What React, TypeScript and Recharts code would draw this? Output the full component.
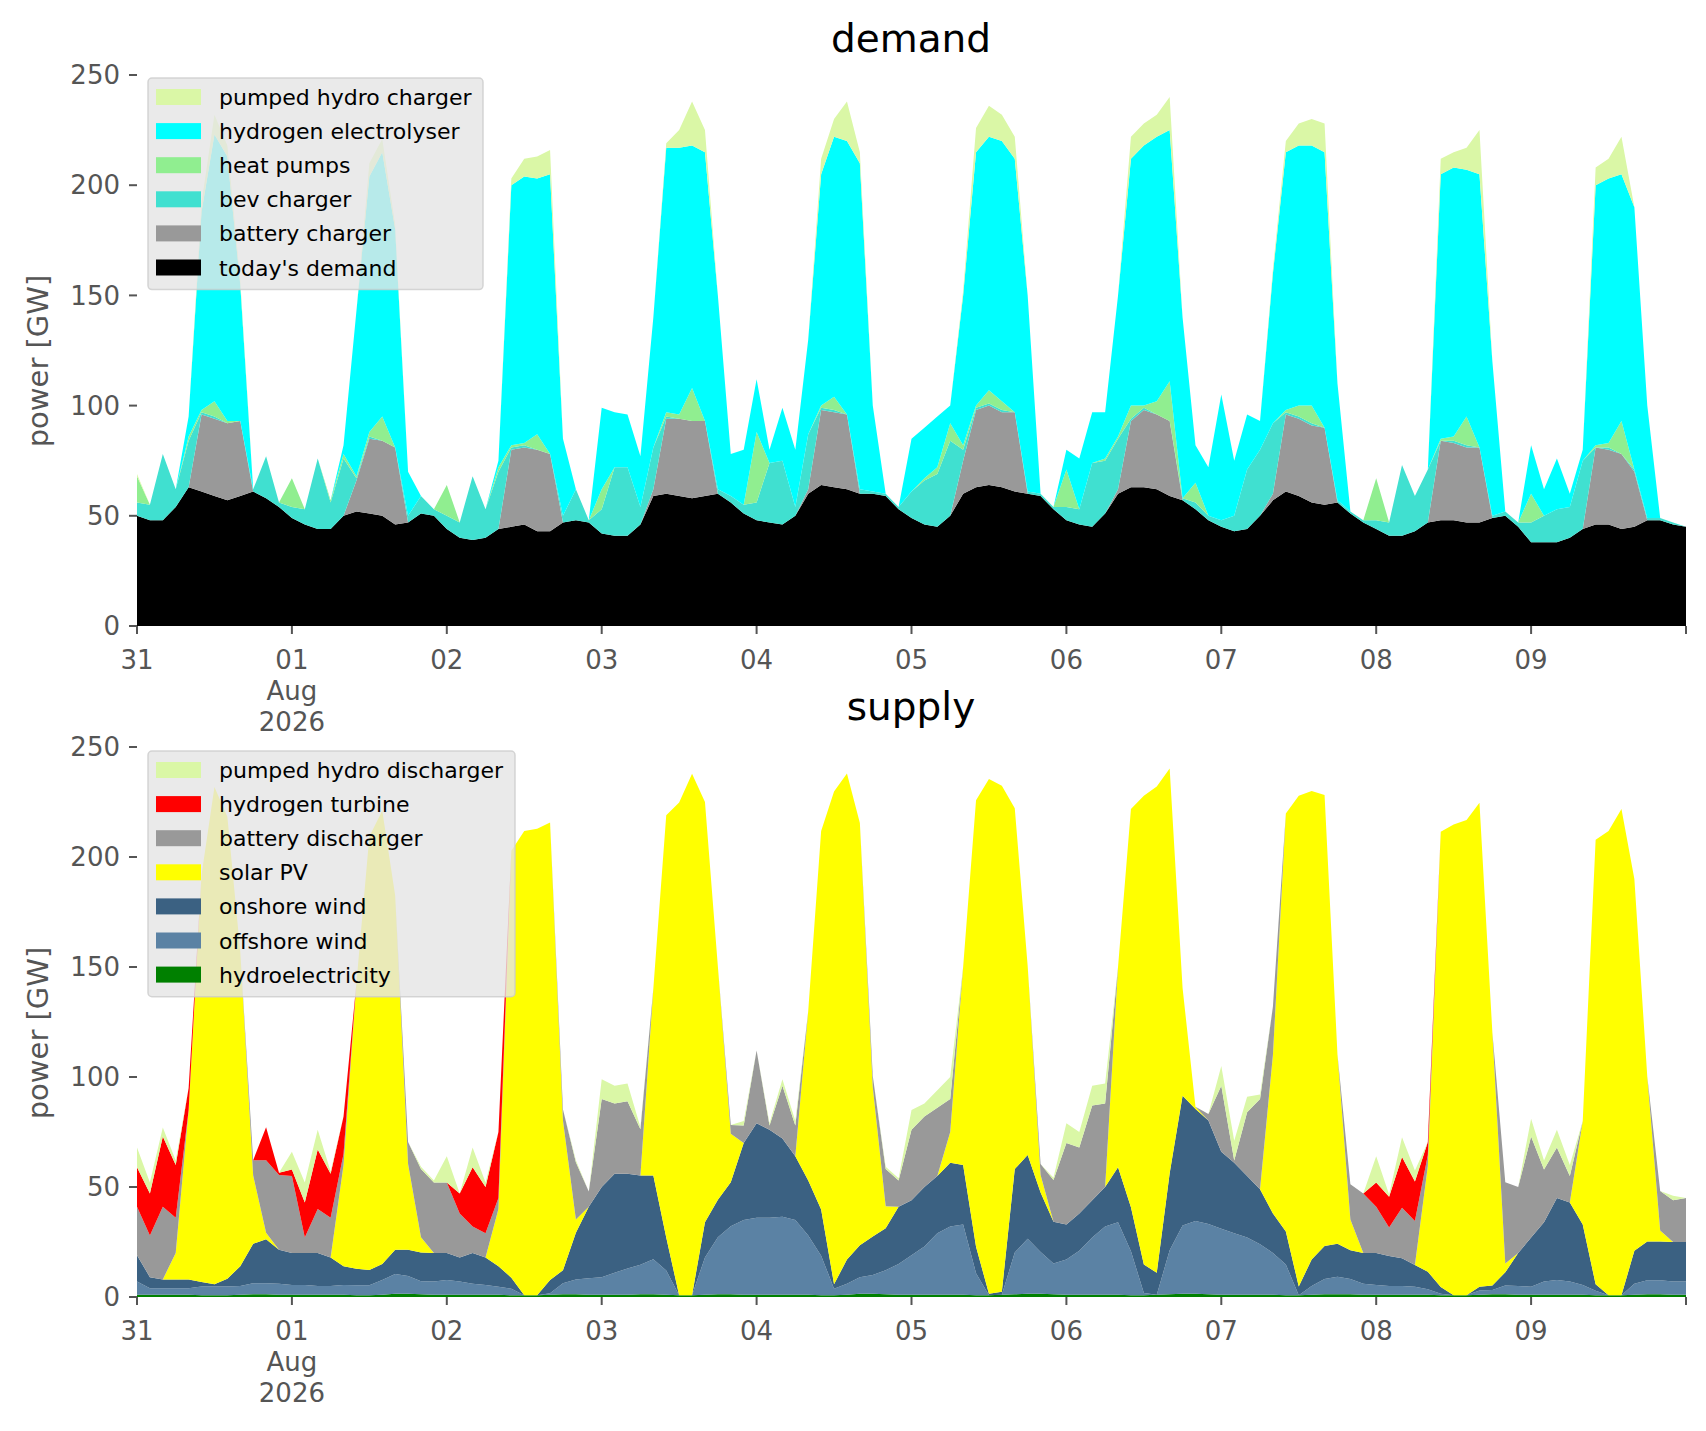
import React from 'react';
import { AreaChart, Area, XAxis, YAxis } from 'recharts';

// two-hourly slots, 31 Jul 00:00 .. 10 Aug 00:00
const DAY_TICKS = [0, 12, 24, 36, 48, 60, 72, 84, 96, 108, 120];
const DAY_LABELS = ['31', '01\nAug\n2026', '02', '03', '04', '05', '06', '07', '08', '09', ''];
const POWER_TICKS = [0, 50, 100, 150, 200, 250];

// demand side [GW]
const TODAYS_DEMAND = [
  50, 48, 48, 54, 63, 61, 59, 57, 59, 61, 58, 54,
  49, 46, 44, 44, 50, 52, 51, 50, 46, 47, 51, 50,
  44, 40, 39, 40, 44, 45, 46, 43, 43, 47, 48, 47,
  42, 41, 41, 46, 59, 60, 59, 58, 59, 60, 56, 51,
  48, 47, 46, 50, 60, 64, 63, 62, 60, 60, 59, 53,
  49, 46, 45, 50, 60, 63, 64, 63, 61, 60, 59, 53,
  48, 46, 45, 51, 60, 63, 63, 62, 59, 57, 53, 48,
  45, 43, 44, 50, 57, 61, 59, 56, 55, 56, 51, 47,
  44, 41, 41, 43, 47, 48, 48, 47, 47, 49, 50, 45,
  38, 38, 38, 40, 44, 46, 46, 44, 45, 48, 48, 46,
  45,
];
const BATTERY_CHARGER = [
  0, 0, 0, 0, 0, 35, 35, 35, 34, 0, 0, 0,
  0, 0, 0, 0, 0, 14, 34, 34, 35, 0, 0, 0,
  0, 0, 0, 0, 0, 35, 35, 37, 35, 0, 0, 0,
  0, 0, 0, 0, 3, 34, 35, 35, 34, 0, 0, 0,
  0, 0, 0, 0, 2, 34, 34, 34, 0, 0, 0, 0,
  0, 0, 0, 0, 15, 35, 36, 34, 36, 0, 0, 0,
  0, 0, 0, 0, 2, 30, 35, 34, 34, 0, 0, 0,
  0, 0, 0, 0, 3, 35, 35, 35, 35, 0, 0, 0,
  0, 0, 0, 0, 0, 36, 35, 34, 34, 0, 0, 0,
  0, 0, 0, 0, 0, 35, 34, 34, 25, 0, 0, 0,
  0,
];
const BEV_CHARGER = [
  6, 7, 30, 8, 21, 1, 1, 0, 0, 1, 19, 2,
  5, 7, 32, 12, 26, 1, 1, 0, 0, 3, 8, 3,
  6, 7, 29, 13, 26, 1, 1, 0, 0, 3, 14, 1,
  11, 31, 31, 8, 19, 1, 0, 0, 0, 2, 3, 4,
  8, 27, 29, 4, 25, 1, 1, 0, 2, 1, 1, 1,
  12, 20, 24, 34, 5, 1, 1, 1, 0, 1, 1, 1,
  6, 7, 29, 24, 23, 1, 1, 0, 0, 1, 3, 2,
  3, 7, 27, 30, 32, 1, 1, 1, 0, 1, 1, 1,
  4, 6, 32, 16, 24, 0, 1, 1, 0, 1, 2, 2,
  9, 12, 15, 14, 31, 0, 1, 0, 1, 1, 1, 1,
  0,
];
const HEAT_PUMPS = [
  12, 0, 0, 0, 2, 1, 7, 1, 0, 0, 0, 0,
  13, 0, 0, 1, 2, 1, 2, 11, 0, 0, 0, 0,
  14, 0, 0, 0, 2, 1, 1, 7, 0, 0, 0, 0,
  9, 0, 0, 0, 0, 2, 2, 15, 0, 0, 0, 0,
  32, 0, 0, 0, 0, 1, 6, 0, 0, 0, 0, 0,
  0, 1, 3, 8, 2, 1, 6, 4, 0, 0, 0, 0,
  17, 0, 0, 1, 1, 6, 1, 6, 18, 0, 9, 0,
  0, 0, 0, 0, 0, 1, 5, 8, 0, 0, 0, 0,
  19, 0, 0, 0, 0, 1, 2, 13, 0, 0, 0, 0,
  13, 0, 0, 0, 0, 1, 2, 15, 0, 0, 0, 0,
  0,
];
const H2_ELECTROLYSER = [
  0, 0, 0, 0, 9, 90, 121, 120, 62, 0, 0, 0,
  0, 0, 0, 0, 4, 75, 116, 120, 99, 20, 0, 0,
  0, 0, 0, 0, 3, 118, 121, 116, 127, 35, 0, 0,
  37, 25, 24, 23, 59, 120, 121, 110, 122, 88, 19, 25,
  24, 6, 24, 26, 43, 105, 118, 124, 148, 39, 0, 0,
  24, 23, 23, 8, 68, 115, 115, 118, 115, 89, 0, 0,
  9, 23, 23, 21, 64, 112, 118, 120, 114, 82, 17, 22,
  57, 25, 25, 13, 68, 117, 118, 118, 125, 53, 0, 0,
  0, 0, 0, 0, 0, 120, 122, 112, 124, 70, 0, 0,
  22, 12, 23, 6, 5, 118, 120, 112, 119, 51, 0, 0,
  0,
];
const PUMPED_CHARGER = [
  1, 0, 0, 0, 0, 4, 9, 5, 2, 0, 0, 0,
  0, 0, 0, 0, 0, 0, 6, 6, 2, 0, 0, 0,
  0, 0, 0, 0, 0, 3, 8, 10, 11, 0, 0, 0,
  0, 0, 0, 0, 0, 2, 8, 20, 10, 0, 0, 0,
  0, 0, 0, 0, 0, 7, 8, 18, 5, 0, 0, 0,
  0, 0, 0, 0, 2, 11, 14, 12, 10, 0, 0, 0,
  0, 0, 0, 0, 0, 10, 10, 10, 15, 0, 0, 0,
  0, 0, 0, 0, 2, 5, 10, 12, 13, 0, 0, 0,
  0, 0, 0, 0, 0, 7, 7, 10, 20, 0, 0, 0,
  0, 0, 0, 0, 0, 8, 9, 17, 0, 0, 0, 0,
  0,
];

// supply side [GW]
const HYDRO = [
  1, 1, 1, 1, 1, 0.8, 0.8, 0.8, 1, 1.2, 1.2, 1,
  1, 1, 1, 1, 1, 0.8, 0.8, 1, 1.5, 1.5, 1.2, 1,
  1, 1, 1, 1, 1, 0.8, 0.8, 0.8, 1, 1.2, 1.2, 1,
  1, 1, 1, 1.2, 1.2, 1, 0.8, 0.8, 1, 1.2, 1.2, 1,
  1, 1, 1, 1, 1, 0.8, 0.8, 1, 1.5, 1.5, 1.2, 1,
  1, 1, 1, 1, 1, 0.8, 0.8, 1, 1.2, 1.5, 1.5, 1.2,
  1, 1, 1, 1, 1, 0.8, 0.8, 1, 1.2, 1.5, 1.5, 1.2,
  1, 1, 1, 1, 1, 0.8, 0.8, 1, 1.2, 1.2, 1.2, 1,
  1, 1, 1, 1, 1, 0.8, 0.8, 0.8, 1, 1.2, 1.2, 1,
  1, 1, 1, 1, 1, 0.8, 0.8, 0.8, 1, 1.2, 1.2, 1,
  1,
];
const OFFSHORE_WIND = [
  6, 3, 3, 3, 3, 4, 4, 4, 4, 5, 5, 5,
  4.5, 4.5, 4, 4, 4.5, 4.5, 4.5, 6.7, 9, 8, 6, 6,
  6.7, 6, 5, 4.5, 3.7, 3, 0, 0, 0.7, 5, 6.7, 7.5,
  8, 10, 12, 13.5, 16, 11, 0, 0, 17, 26, 31, 34,
  35, 35, 35.5, 34, 27, 18, 3, 5, 7.5, 8.5, 11, 14,
  18, 22, 28, 31, 32, 10, 0, 0, 19, 25, 19, 14,
  16, 20, 26, 31, 33, 20, 1, 0, 20, 31, 33, 32,
  30, 28, 26, 23, 19, 14, 0, 4, 7, 8, 7, 5,
  4.5, 4, 4, 3.7, 2.5, 0.7, 0, 0, 2, 2, 4, 4,
  3.7, 6, 6.7, 6, 4.5, 2, 0, 0, 5, 6.4, 6.4, 6,
  6,
];
const ONSHORE_WIND = [
  12, 5, 4, 4, 4, 2, 1, 3.5, 9, 18, 20, 15.5,
  14.5, 14.5, 15, 13, 8.5, 7.5, 7, 7.3, 11, 12, 13, 13,
  12.3, 11, 14, 12.5, 9.3, 5, 0, 0, 6, 6, 21.3, 32.5,
  41, 45, 43, 40.5, 38, 15, 0, 0, 16, 17, 20, 35,
  43, 40, 35.5, 29, 25, 21, 2, 11, 14.5, 17.5, 19, 26,
  25, 27, 26, 29, 27, 12, 0.7, 1.4, 38, 38, 27, 19,
  16, 17, 17, 18, 25, 20, 13, 10, 35, 59, 51, 47,
  35, 32, 28, 25, 18, 15, 4, 12, 15, 15, 13, 14,
  14.5, 13.6, 12.6, 9.8, 8, 3, 0, 0, 1.7, 2, 6, 15,
  22.3, 27, 37.3, 36, 27.5, 3, 0, 0, 15, 17.6, 17.6, 18,
  18,
];
const SOLAR_PV = [
  0, 0, 0, 12, 77, 185, 226, 210, 143, 31, 3, 0,
  0, 0, 0, 0, 46, 130, 197, 206, 161, 39, 7, 0,
  0, 0, 0, 0, 26, 194, 211, 212, 208, 68, 6, 0,
  0, 0, 0, 0, 85, 192, 224, 237, 191, 106, 22, 0,
  0, 0, 0, 0, 77, 172, 224, 221, 192, 68, 10, 0,
  0, 0, 0, 14, 90, 203, 234, 230, 164, 86, 8, 0,
  0, 0, 0, 0, 91, 181, 213, 221, 184, 49, 1, 0,
  0, 0, 0, 0, 72, 190, 223, 213, 205, 86, 14, 0,
  0, 0, 0, 0, 48, 207, 214, 216, 220, 115, 4, 0,
  0, 0, 0, 0, 47, 202, 211, 221, 169, 75, 5, 0,
  0,
];
const BATTERY_DISCHARGER = [
  22, 19, 33, 16, 0, 0, 0, 0, 0, 7, 33, 34,
  35, 7, 20, 18, 5, 0, 0, 0, 0, 10, 31, 32,
  32, 20, 12, 11, 5, 0, 0, 0, 0, 5, 26, 7,
  40, 32, 33, 21, 0, 0, 0, 0, 0, 0, 4, 8,
  33, 2, 24, 14, 0, 0, 0, 0, 0, 5, 17, 12,
  32, 32, 31, 15, 0, 0, 0, 0, 0, 0, 5, 19,
  37, 30, 43, 38, 0, 0, 0, 0, 0, 0, 0, 3,
  30, 1, 29, 41, 22, 0, 0, 0, 0, 0, 16, 27,
  21, 13, 23, 20, 5, 0, 0, 0, 0, 0, 37, 30,
  46, 24, 23, 12, 0, 0, 0, 0, 0, 0, 18, 19,
  20,
];
const H2_TURBINE = [
  18, 19, 32, 24, 10, 0, 0, 0, 0, 0, 15, 1,
  3, 16, 27, 20, 17, 0, 0, 0, 0, 0, 0, 0,
  0, 9, 27, 21, 30, 0, 0, 0, 0, 0, 0, 0,
  0, 0, 0, 0, 0, 0, 0, 0, 0, 0, 0, 0,
  0, 0, 0, 0, 0, 0, 0, 0, 0, 0, 0, 0,
  0, 0, 0, 0, 0, 0, 0, 0, 0, 0, 0, 0,
  0, 0, 0, 0, 0, 0, 0, 0, 0, 0, 0, 0,
  0, 0, 0, 0, 0, 0, 0, 0, 0, 0, 0, 0,
  11, 14, 23, 18, 6, 0, 0, 0, 0, 0, 0, 0,
  0, 0, 0, 0, 0, 0, 0, 0, 0, 0, 0, 0,
  0,
];
const PUMPED_DISCHARGER = [
  9, 5, 4, 2, 0, 0, 0, 0, 0, 0, 0, 0,
  8, 9, 9, 1, 0, 0, 0, 0, 0, 0, 1, 1,
  12, 0, 9, 2, 0, 0, 0, 0, 0, 0, 1, 0,
  9, 8, 8, 1, 0, 0, 0, 0, 0, 0, 0, 2,
  0, 1, 3, 2, 0, 0, 0, 0, 0, 0, 1, 1,
  9, 6, 8, 10, 0, 0, 0, 0, 0, 0, 0, 1,
  9, 7, 9, 9, 0, 0, 0, 0, 0, 0, 0, 0,
  9, 9, 7, 2, 0, 0, 0, 0, 0, 0, 0, 0,
  12, 1, 9, 5, 0, 0, 0, 0, 0, 0, 0, 0,
  8, 4, 8, 5, 0, 0, 0, 0, 0, 0, 0, 2,
  0,
];

type Series = { key: string; name: string; color: string; values: number[] };

// listed bottom of the stack first
const DEMAND_SERIES: Series[] = [
  { key: 'today', name: "today's demand", color: '#000000', values: TODAYS_DEMAND },
  { key: 'battery', name: 'battery charger', color: '#999999', values: BATTERY_CHARGER },
  { key: 'bev', name: 'bev charger', color: '#40e0d0', values: BEV_CHARGER },
  { key: 'heat', name: 'heat pumps', color: '#90ee90', values: HEAT_PUMPS },
  { key: 'electrolyser', name: 'hydrogen electrolyser', color: '#00ffff', values: H2_ELECTROLYSER },
  { key: 'pumped', name: 'pumped hydro charger', color: '#daf7a6', values: PUMPED_CHARGER },
];

const SUPPLY_SERIES: Series[] = [
  { key: 'hydro', name: 'hydroelectricity', color: '#008000', values: HYDRO },
  { key: 'offshore', name: 'offshore wind', color: '#5b82a4', values: OFFSHORE_WIND },
  { key: 'onshore', name: 'onshore wind', color: '#3b6182', values: ONSHORE_WIND },
  { key: 'solar', name: 'solar PV', color: '#ffff00', values: SOLAR_PV },
  { key: 'battery', name: 'battery discharger', color: '#999999', values: BATTERY_DISCHARGER },
  { key: 'turbine', name: 'hydrogen turbine', color: '#ff0000', values: H2_TURBINE },
  { key: 'pumped', name: 'pumped hydro discharger', color: '#daf7a6', values: PUMPED_DISCHARGER },
];

const buildRows = (series: Series[]) =>
  series[0].values.map((_, i) => {
    const row: Record<string, number> = { slot: i };
    series.forEach((s) => {
      row[s.key] = s.values[i];
    });
    return row;
  });

const demandRows = buildRows(DEMAND_SERIES);
const supplyRows = buildRows(SUPPLY_SERIES);

const TICK_GREY = '#555555';
const FONT = "'DejaVu Sans', sans-serif";

const DayTick = (props: any) => {
  const { x, y, payload } = props;
  const idx = DAY_TICKS.indexOf(payload.value);
  const label = idx >= 0 ? DAY_LABELS[idx] : '';
  const lines = label ? label.split('\n') : [];
  return (
    <g>
      {lines.map((line, i) => (
        <text key={i} x={x} y={y + 33 + i * 31} textAnchor="middle" fill={TICK_GREY} fontSize={26}>
          {line}
        </text>
      ))}
    </g>
  );
};

const Panel = ({ rows, series, top, height, marginTop, marginBottom }: any) => (
  <div style={{ position: 'absolute', left: 0, top, width: 1706, height }}>
    <AreaChart
      width={1706}
      height={height}
      data={rows}
      margin={{ top: marginTop, right: 20, bottom: marginBottom, left: 37 }}
    >
      <XAxis
        dataKey="slot"
        type="number"
        domain={[0, 120]}
        ticks={DAY_TICKS}
        interval={0}
        axisLine={false}
        tickLine={{ stroke: TICK_GREY, strokeWidth: 2 }}
        tickSize={8}
        height={110}
        tick={<DayTick />}
      />
      <YAxis
        type="number"
        domain={[0, 250]}
        ticks={POWER_TICKS}
        interval={0}
        axisLine={false}
        tickLine={{ stroke: TICK_GREY, strokeWidth: 2 }}
        tickSize={8}
        tickMargin={9}
        width={100}
        tick={{ fill: TICK_GREY, fontSize: 26 }}
      />
      {series.map((s: Series) => (
        <Area
          key={s.key}
          type="linear"
          dataKey={s.key}
          name={s.name}
          stackId="1"
          stroke="none"
          fill={s.color}
          fillOpacity={1}
          dot={false}
          activeDot={false}
          isAnimationActive={false}
        />
      ))}
    </AreaChart>
  </div>
);

const LegendBox = ({ series, x, y, width, firstRow }: { series: Series[]; x: number; y: number; width: number; firstRow: number }) => {
  const items = [...series].reverse();
  const pitch = 34.1;
  const h = items.length * pitch + 7;
  return (
    <g>
      <rect x={x} y={y} width={width} height={h} rx={4} fill="rgba(229,229,229,0.8)" stroke="rgba(204,204,204,0.8)" strokeWidth={1.5} />
      {items.map((s, i) => {
        const cy = firstRow + i * pitch;
        return (
          <g key={s.key}>
            <rect x={x + 8} y={cy - 8} width={45} height={16} fill={s.color} />
            <text x={x + 71} y={cy + 8} fontSize={22} fill="#000000">
              {s.name}
            </text>
          </g>
        );
      })}
    </g>
  );
};

export default function App() {
  return (
    <div style={{ position: 'absolute', left: 0, top: 0, width: 1706, height: 1431, background: '#ffffff', fontFamily: FONT, overflow: 'hidden' }}>
      <Panel rows={demandRows} series={DEMAND_SERIES} top={0} height={745} marginTop={75} marginBottom={9} />
      <Panel rows={supplyRows} series={SUPPLY_SERIES} top={680} height={751} marginTop={67} marginBottom={24} />
      <svg width={1706} height={1431} style={{ position: 'absolute', left: 0, top: 0, pointerEvents: 'none', fontFamily: FONT }}>
        <text x={911} y={52} textAnchor="middle" fontSize={39} fill="#000000">demand</text>
        <text x={911} y={720} textAnchor="middle" fontSize={39} fill="#000000">supply</text>
        <text transform="translate(48,361) rotate(-90)" textAnchor="middle" fontSize={29} fill={TICK_GREY}>power [GW]</text>
        <text transform="translate(48,1033) rotate(-90)" textAnchor="middle" fontSize={29} fill={TICK_GREY}>power [GW]</text>
        <LegendBox series={DEMAND_SERIES} x={148} y={78} width={335} firstRow={97} />
        <LegendBox series={SUPPLY_SERIES} x={148} y={751} width={367} firstRow={770} />
      </svg>
    </div>
  );
}
